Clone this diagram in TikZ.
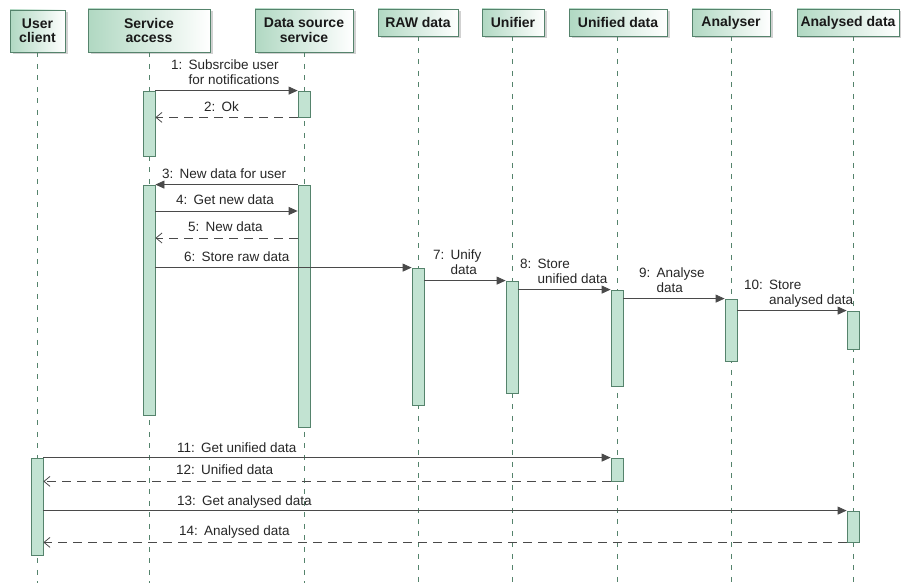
\documentclass[tikz,border=0pt]{standalone}
\usepackage{fontspec}
\setmainfont{Liberation Sans}
\usetikzlibrary{arrows.meta,shadows}
\definecolor{lineg}{HTML}{55836C}
\definecolor{actfill}{HTML}{C2E3D2}
\definecolor{headfill}{HTML}{B0D8C2}
\definecolor{msgc}{HTML}{4A4A4A}
\newcommand{\mnum}[1]{#1:\hspace{0.45em}}
\newcommand{\twolines}[2]{\begin{tabular}[t]{@{}l@{}}#1\\#2\end{tabular}}
\tikzset{
  head/.style={draw=lineg, line width=0.9pt, left color=headfill, right color=white,
    inner sep=0pt, align=center, font=\fontsize{14}{14.5}\selectfont\bfseries, text=black!90,
    drop shadow={shadow xshift=2.5pt, shadow yshift=-2.5pt, fill=black!30, opacity=0.6}},
  life/.style={draw=lineg, line width=0.9pt, dash pattern=on 5pt off 6.5pt},
  act/.style={draw=lineg, line width=0.8pt, fill=actfill, minimum width=12pt, inner sep=0pt,
    drop shadow={shadow xshift=0.8pt, shadow yshift=-1.2pt, fill=lineg!80, opacity=0.7}},
  msg/.style={draw=msgc, line width=0.8pt, -{Triangle[length=9pt,width=8pt]}},
  ret/.style={draw=msgc, line width=0.8pt, dash pattern=on 9pt off 6pt,
    -{Straight Barb[length=6pt,width=10pt]}},
  lbl/.style={anchor=base west, inner sep=0pt, font=\fontsize{13.5}{15}\selectfont, text=black!85},
}
\begin{document}
\begin{tikzpicture}[x=1pt,y=-1pt]
\useasboundingbox (0,0) rectangle (901,583);
\coordinate (bot) at (0,583);

% participants
\node[head, minimum width=55pt, minimum height=42pt] (h-uc) at (37.5,31) {User\\client};
\node[head, minimum width=122pt, minimum height=43pt] (h-sa) at (149,30.5) {Service\\access};
\node[head, minimum width=98pt, minimum height=43pt] (h-ds) at (304,30.5) {Data source\\service};
\node[head, minimum width=80pt, minimum height=27pt] (h-raw) at (418,22.5) {RAW data};
\node[head, minimum width=62pt, minimum height=27pt] (h-uf) at (513,22.5) {Unifier};
\node[head, minimum width=98pt, minimum height=27pt] (h-ud) at (618,22.5) {Unified data};
\node[head, minimum width=78pt, minimum height=27pt] (h-an) at (731,22.5) {Analyser};
\node[head, minimum width=102pt, minimum height=27pt] (h-ad) at (848,22.5) {Analysed data};

% lifelines
\draw[life] (h-uc.south) -- (h-uc.south |- bot);
\draw[life] (h-sa.south) -- (h-sa.south |- bot);
\draw[life] (h-ds.south) -- (h-ds.south |- bot);
\draw[life] (h-raw.south) -- (h-raw.south |- bot);
\draw[life] ([xshift=-1pt]h-uf.south) -- ([xshift=-1pt]h-uf.south |- bot);
\draw[life] ([xshift=-1pt]h-ud.south) -- ([xshift=-1pt]h-ud.south |- bot);
\draw[life] (h-an.south) -- (h-an.south |- bot);
\draw[life] ([xshift=5pt]h-ad.south) -- ([xshift=5pt]h-ad.south |- bot);

% activation bars
\node[act, minimum height=65pt]  (a-sa1) at (149,123.5) {};
\node[act, minimum height=26pt]  (a-ds1) at (304,104) {};
\node[act, minimum height=230pt] (a-sa2) at (149,300) {};
\node[act, minimum height=242pt] (a-ds2) at (304,306) {};
\node[act, minimum height=137pt] (a-raw) at (418,336.5) {};
\node[act, minimum height=112pt] (a-uf)  at (512,337) {};
\node[act, minimum height=96pt]  (a-ud1) at (617,338) {};
\node[act, minimum height=62pt]  (a-an)  at (731,330) {};
\node[act, minimum height=38pt]  (a-ad1) at (853,330) {};
\node[act, minimum height=97pt]  (a-uc)  at (37,506.5) {};
\node[act, minimum height=23pt]  (a-ud2) at (617,469.5) {};
\node[act, minimum height=31pt]  (a-ad2) at (853,526.5) {};

% messages
\draw[msg] (a-sa1.north east) -- (a-ds1.north west);
\draw[ret] (a-ds1.south west) -- (a-sa1.east |- a-ds1.south);
\draw[msg] (a-ds2.north west) -- (a-sa2.north east);
\draw[msg] (a-sa2.east |- 0,211) -- (a-ds2.west |- 0,211);
\draw[ret] (a-ds2.west |- 0,238) -- (a-sa2.east |- 0,238);
\draw[msg] (a-sa2.east |- a-raw.north) -- (a-raw.north west);
\draw[msg] (a-raw.east |- a-uf.north) -- (a-uf.north west);
\draw[msg] (a-uf.east |- a-ud1.north) -- (a-ud1.north west);
\draw[msg] (a-ud1.east |- a-an.north) -- (a-an.north west);
\draw[msg] (a-an.east |- a-ad1.north) -- (a-ad1.north west);
\draw[msg] (a-uc.north east) -- (a-ud2.north west);
\draw[ret] (a-ud2.south west) -- (a-uc.east |- a-ud2.south);
\draw[msg] (a-uc.east |- a-ad2.north) -- (a-ad2.north west);
\draw[ret] (a-ad2.south west) -- (a-uc.east |- a-ad2.south);

% message labels
\node[lbl] (l1)  at (171,70)  {\mnum{1}\twolines{Subsrcibe user}{for notifications}};
\node[lbl] (l2)  at (204,111) {\mnum{2}Ok};
\node[lbl] (l3)  at (162,178) {\mnum{3}New data for user};
\node[lbl] (l4)  at (176,204) {\mnum{4}Get new data};
\node[lbl] (l5)  at (188,231) {\mnum{5}New data};
\node[lbl] (l6)  at (184,261) {\mnum{6}Store raw data};
\node[lbl] (l7)  at (433,259) {\mnum{7}\twolines{Unify}{data}};
\node[lbl] (l8)  at (520,268) {\mnum{8}\twolines{Store}{unified data}};
\node[lbl] (l9)  at (639,277) {\mnum{9}\twolines{Analyse}{data}};
\node[lbl] (l10) at (744,289) {\mnum{10}\twolines{Store}{analysed data}};
\node[lbl] (l11) at (177,452) {\mnum{11}Get unified data};
\node[lbl] (l12) at (176,474) {\mnum{12}Unified data};
\node[lbl] (l13) at (177,505) {\mnum{13}Get analysed data};
\node[lbl] (l14) at (179,535) {\mnum{14}Analysed data};
\end{tikzpicture}
\end{document}
